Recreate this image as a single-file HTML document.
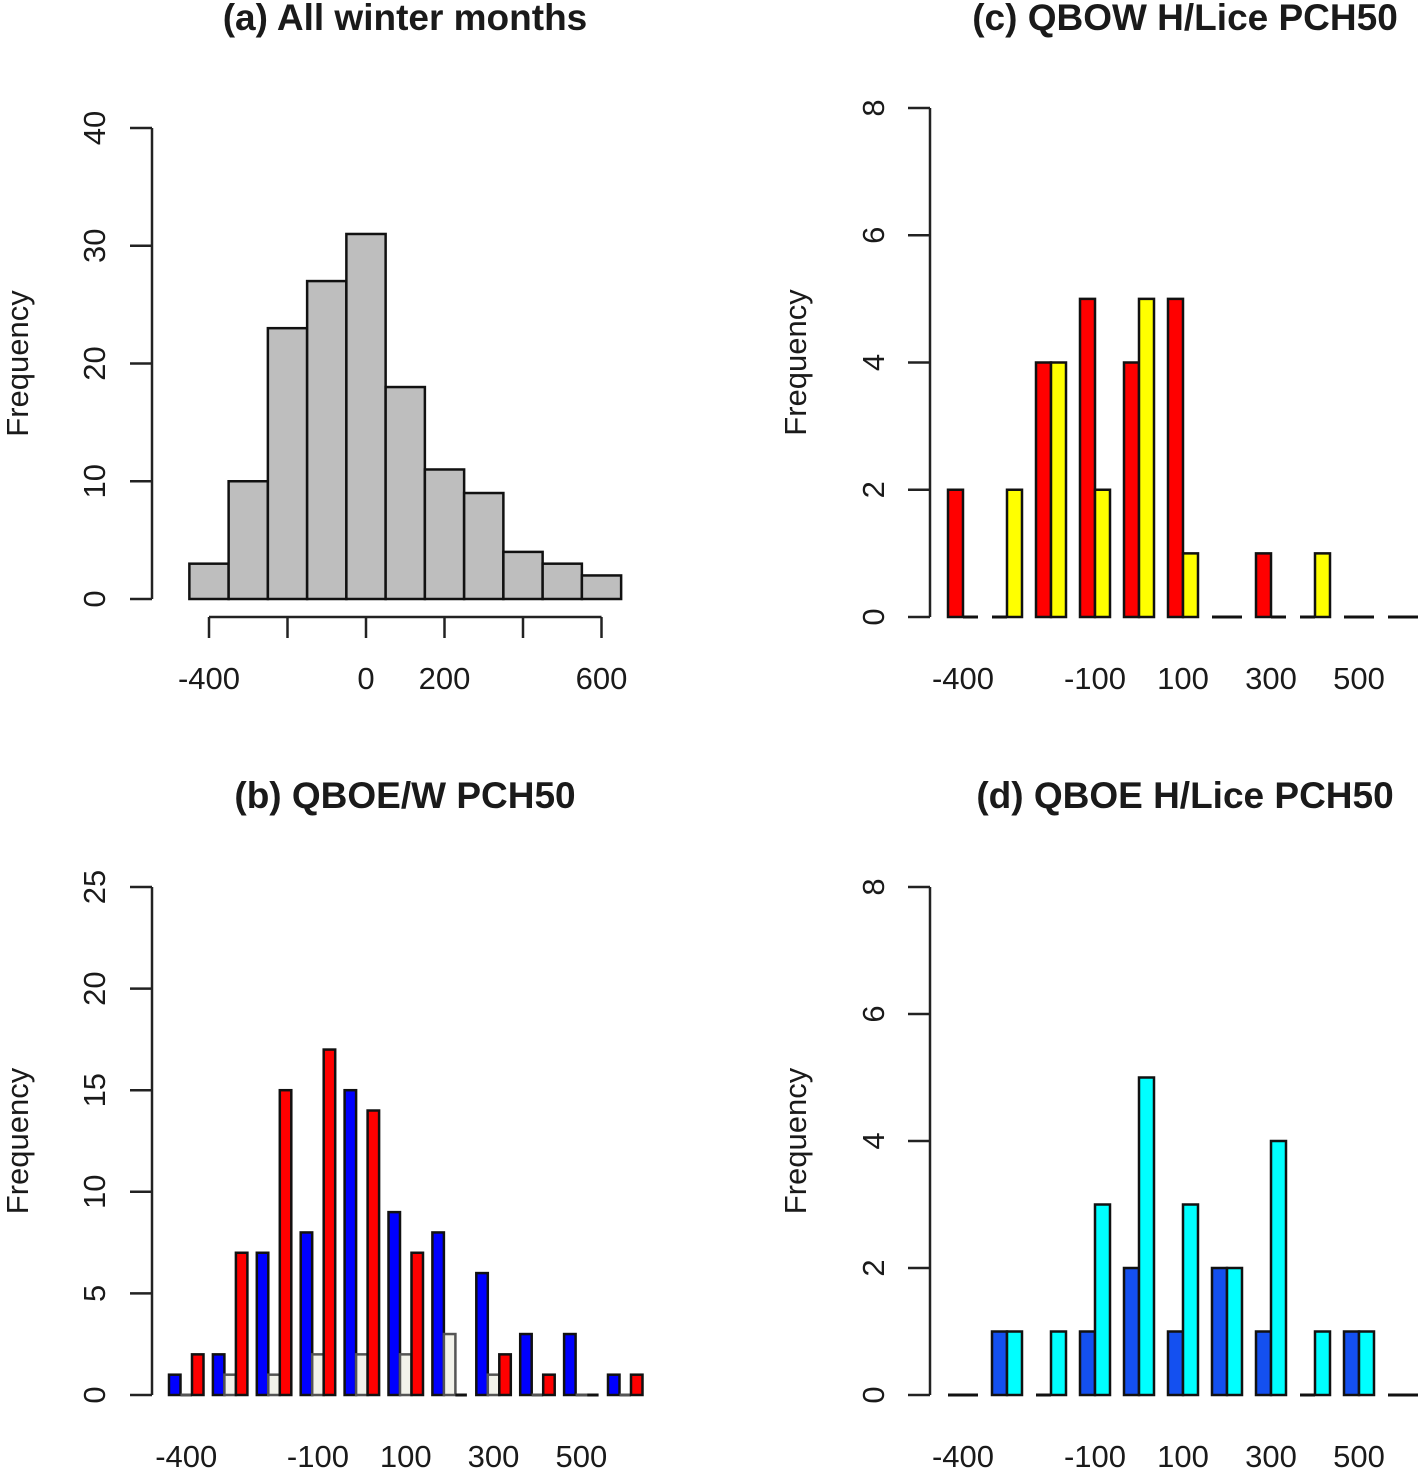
<!DOCTYPE html>
<html><head><meta charset="utf-8">
<style>
html,body{margin:0;padding:0;background:#fff;}
svg text{font-family:"Liberation Sans",sans-serif;fill:#1a1a1a;}
</style></head>
<body>
<svg id="fig" width="1425" height="1470" viewBox="0 0 1425 1470" xmlns="http://www.w3.org/2000/svg"></svg>
<script>
// Panel (a) histogram
const aBreaks = [-450,-350,-250,-150,-50,50,150,250,350,450,550,650];
const aCounts = [3,10,23,27,31,18,11,9,4,3,2];
const aYTicks = [0,10,20,30,40];
const aXTicks = [-400,-200,0,200,400,600];
const aXLabels = ["-400","","0","200","","600"];
// Panel (b)
const bBlue = [1,2,7,8,15,9,8,6,3,3,1];
const bGray = [0,1,1,2,2,2,3,1,0,0,0];
const bRed  = [2,7,15,17,14,7,0,2,1,0,1];
const bYTicks = [0,5,10,15,20,25];
// Panel (c)
const cRed    = [2,0,4,5,4,5,0,1,0,0,0];
const cYellow = [0,2,4,2,5,1,0,0,1,0,0];
const cYTicks = [0,2,4,6,8];
// Panel (d)
const dBlue = [0,1,0,1,2,1,2,1,0,1,0];
const dCyan = [0,1,1,3,5,3,2,4,1,1,0];
const dYTicks = [0,2,4,6,8];
// group x labels (shared)
const groupLabelIdx = [0,3,5,7,9];
const groupLabels = ["-400","-100","100","300","500"];

const NS="http://www.w3.org/2000/svg";
const svg=document.getElementById('fig');
const FS=31;
function mk(tag,attrs,parent){const e=document.createElementNS(NS,tag);for(const k in attrs)e.setAttribute(k,attrs[k]);(parent||svg).appendChild(e);return e;}

function yScale(y0,yTop,max){return v=>y0-(y0-yTop)*v/max;}

function yAxis(g,x,ys,ticks,labelX,freqX){
  const ax=mk('line',{x1:x,x2:x,y1:ys(ticks[0]),y2:ys(ticks[ticks.length-1]),stroke:'#222','stroke-width':2.5},g);
  
  
  ticks.forEach(t=>{
    const tl=mk('line',{x1:x-22,x2:x,y1:ys(t),y2:ys(t),stroke:'#222','stroke-width':2.5},g);
    
    
    const tx=mk('text',{x:0,y:0,'font-size':FS,'text-anchor':'middle',transform:`translate(${labelX},${ys(t)}) rotate(-90)`},g);
    tx.textContent=t;
    
    
  });
  const mid=(ys(ticks[0])+ys(ticks[ticks.length-1]))/2;
  const f=mk('text',{x:0,y:0,'font-size':FS,'text-anchor':'middle',transform:`translate(${freqX},${mid}) rotate(-90)`},g);
  f.textContent='Frequency';
  
  
}
function title(txt,cx,y){
  const t=mk('text',{x:cx,y:y,'font-size':37,'font-weight':'bold','text-anchor':'middle'});
  t.textContent=txt;
  
  
}
function bar(g,x,w,y0,y1,fill,stroke){
  const h=y0-y1;
  let r;
  if(h<=0.5){
    r=mk('line',{x1:x,x2:x+w,y1:y0,y2:y0,stroke:stroke||'#111','stroke-width':3},g);
  } else {
    r=mk('rect',{x:x,y:y1,width:w,height:h,fill:fill,stroke:stroke||'#111','stroke-width':2.5},g);
  }
  
  
  return r;
}

// ---- Panel a
(function(){
  const g=mk('g',{});
  
  
  title('(a) All winter months',405,30);
  const ys=yScale(599,128,40);
  const xs=v=>366+v*0.3925;
  yAxis(g,152,ys,aYTicks,105,28);
  aCounts.forEach((c,i)=>{bar(g,xs(aBreaks[i]),xs(aBreaks[i+1])-xs(aBreaks[i]),ys(0),ys(c),'#bebebe');});
  const xl=mk('line',{x1:xs(aXTicks[0]),x2:xs(aXTicks[aXTicks.length-1]),y1:617,y2:617,stroke:'#222','stroke-width':2.5},g);
  
  
  aXTicks.forEach((t,i)=>{
    const tl=mk('line',{x1:xs(t),x2:xs(t),y1:617,y2:638,stroke:'#222','stroke-width':2.5},g);
    
    
    if(aXLabels[i]){
      const tx=mk('text',{x:xs(t),y:689,'font-size':FS,'text-anchor':'middle'},g);
      tx.textContent=aXLabels[i];
      
      
    }
  });
})();

// grouped bar helper
function grouped(g,series,colors,strokes,x0,step,w,ys,labelY){
  const n=series[0].length;
  for(let i=0;i<n;i++){
    series.forEach((s,k)=>{bar(g,x0+i*step+k*w,w,ys(0),ys(s[i]),colors[k],strokes[k]);});
  }
  groupLabelIdx.forEach((gi,j)=>{
    const tx=mk('text',{x:x0+gi*step+series.length*w/2,y:labelY,'font-size':FS,'text-anchor':'middle'},g);
    tx.textContent=groupLabels[j];
    
    
  });
}

// ---- Panel b
(function(){
  const g=mk('g',{});
  
  
  title('(b) QBOE/W PCH50',405,808);
  const ys=yScale(1395,887,25);
  yAxis(g,152,ys,bYTicks,105,28);
  grouped(g,[bBlue,bGray,bRed],['#0000ff','#f2f2ea','#ff0000'],['#111','#555','#111'],169,43.9,11.5,ys,1467);
})();

// ---- Panel c
(function(){
  const g=mk('g',{});
  
  
  title('(c) QBOW H/Lice PCH50',1185,30);
  const ys=yScale(617,108,8);
  yAxis(g,930,ys,cYTicks,884,806);
  grouped(g,[cRed,cYellow],['#ff0000','#ffff00'],['#111','#111'],948,44,15,ys,689);
})();

// ---- Panel d
(function(){
  const g=mk('g',{});
  
  
  title('(d) QBOE H/Lice PCH50',1185,808);
  const ys=yScale(1395,887,8);
  yAxis(g,930,ys,dYTicks,884,806);
  grouped(g,[dBlue,dCyan],['#1450f0','#00ffff'],['#111','#111'],948,44,15,ys,1467);
})();
</script>
</body></html>
